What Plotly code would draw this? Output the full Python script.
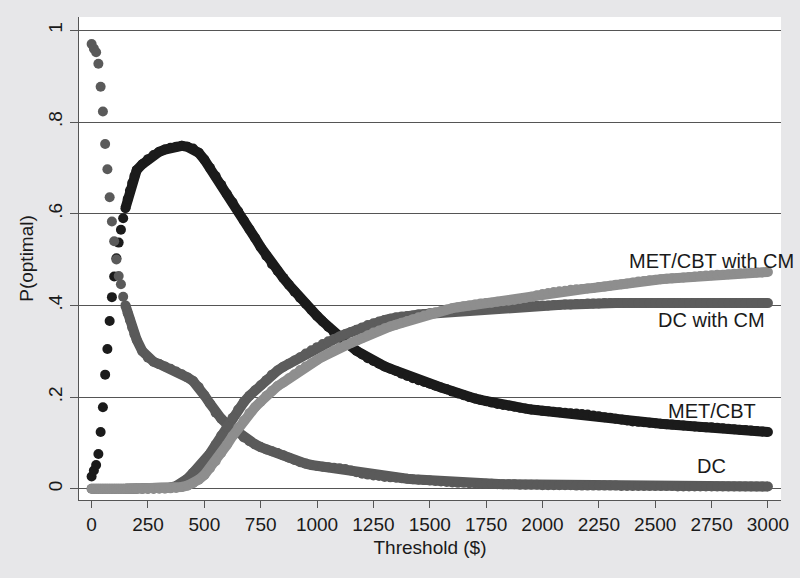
import plotly.graph_objects as go

# thresholds ($): every 10 up to 190, then every 25 up to 3000
threshold = list(range(0, 200, 10)) + list(range(200, 3001, 25))

met_cbt = [
    .027, .040, .052, .076, .124, .178, .249, .305, .366, .418,
    .463, .503, .537, .565, .590, .612, .632, .650, .667, .682,
    # 200 - 425
    .695, .708, .719, .728, .735, .740, .744, .746, .748, .746,
    .742, .733, .718, .700, .682, .663, .643, .625, .605, .585,
    .566, .547, .527, .508, .490, .475, .460, .445, .430, .416,
    .403, .390, .377, .365, .353, .341, .331, .321, .311, .301,
    .293, .285, .279, .273, .267, .262, .257, .251, .246, .241,
    .237, .233, .229, .225, .221, .217, .212, .208, .204, .200,
    .197, .194, .191, .188, .185, .183, .181, .179, .177, .175,
    .173, .172, .170, .169, .168, .167, .166, .165, .164, .163,
    .162, .160, .158, .156, .155, .153, .151, .149, .147, .146,
    .145, .144, .143, .142, .141, .140, .139, .138, .137, .136,
    .135, .134, .134, .133, .132, .131, .130, .129, .128, .127,
    .126, .125, .124,
]

dc = [
    .970, .960, .952, .927, .877, .823, .752, .697, .636, .583,
    .540, .500, .464, .446, .419, .400, .383, .368, .352, .337,
    # 200 - 425
    .325, .300, .286, .277, .272, .267, .262, .256, .250, .243,
    .235, .222, .204, .186, .166, .153, .141, .131, .122, .112,
    .104, .097, .091, .086, .082, .078, .073, .068, .063, .058,
    .055, .052, .050, .048, .047, .046, .045, .043, .040, .036,
    .033, .031, .029, .028, .026, .025, .024, .023, .022, .021,
    .020, .019, .018, .017, .016, .015, .014, .013, .013, .012,
    .012, .011, .011, .011, .010, .010, .010, .010, .009, .009,
    .009, .009, .008, .008, .008, .008, .008, .008, .007, .007,
    .007, .007, .007, .007, .007, .007, .006, .006, .006, .006,
    .006, .006, .006, .006, .006, .006, .005, .005, .005, .005,
    .005, .005, .005, .005, .005, .005, .005, .005, .005, .005,
    .005, .005, .005,
]

dc_cm = [
    0, 0, 0, 0, 0, 0, 0, 0, 0, 0,
    0, 0, 0, 0, 0, 0, 0, 0, 0, 0,
    # 200 - 425
    0, 0, 0, 0, .001, .002, .003, .006, .012, .022,
    .035, .047, .060, .077, .096, .116, .136, .155, .173, .189,
    .203, .215, .226, .237, .249, .258, .266, .273, .280, .287,
    .295, .302, .309, .316, .322, .327, .332, .337, .342, .347,
    .352, .357, .361, .365, .368, .371, .374, .376, .377, .378,
    .380, .381, .383, .384, .385, .386, .387, .388, .389, .390,
    .391, .392, .393, .394, .395, .396, .396, .397, .398, .398,
    .399, .399, .400, .400, .401, .401, .402, .402, .403, .403,
    .404, .404, .404, .405, .405, .405, .405, .405, .405, .405,
    .405, .405, .405, .405, .405, .405, .405, .405, .405, .405,
    .405, .405, .405, .405, .405, .405, .405, .405, .405, .405,
    .405, .405, .405,
]

met_cbt_cm = [
    0, 0, 0, 0, 0, 0, 0, 0, 0, 0,
    0, 0, 0, 0, 0, 0, 0, 0, 0, 0,
    # 200 - 425
    0, 0, 0, 0, 0, 0, .001, .002, .004, .007,
    .012, .020, .030, .045, .060, .078, .096, .115, .133, .149,
    .165, .178, .190, .203, .214, .224, .232, .241, .250, .259,
    .267, .274, .281, .288, .295, .302, .308, .313, .318, .323,
    .329, .335, .341, .345, .350, .354, .358, .362, .366, .370,
    .374, .378, .382, .385, .388, .391, .394, .396, .398, .400,
    .402, .404, .405, .406, .408, .409, .410, .412, .414, .416,
    .419, .422, .425, .427, .429, .431, .432, .434, .435, .436,
    .437, .438, .440, .441, .443, .445, .446, .448, .450, .452,
    .453, .455, .456, .457, .458, .459, .460, .461, .462, .463,
    .464, .465, .466, .467, .467, .468, .469, .470, .470, .471,
    .472, .472, .473,
]

for s in (met_cbt, dc, dc_cm, met_cbt_cm):
    assert len(s) == len(threshold), len(s)

# curve labels (placed at threshold 2750 like the original)
labels = ["MET/CBT with CM", "DC with CM", "MET/CBT", "DC"]
label_y = [0.497, 0.369, 0.170, 0.049]

series = [
    ("MET/CBT", met_cbt, "#1b1b1b"),
    ("DC", dc, "#5a5a5a"),
    ("DC with CM", dc_cm, "#5c5c5c"),
    ("MET/CBT with CM", met_cbt_cm, "#8e8e8e"),
]

# where the dots start to merge into a solid band
band_start = 15

fig = go.Figure()
for name, ys, col in series:
    # thick line under the dense part so the dots read as one band
    fig.add_trace(go.Scatter(
        x=threshold[band_start:], y=ys[band_start:], mode="lines",
        line=dict(color=col, width=10), hoverinfo="skip",
        cliponaxis=False,
    ))
    fig.add_trace(go.Scatter(
        x=threshold, y=ys, mode="markers", name=name,
        marker=dict(size=10, color=col, line=dict(width=0)),
        cliponaxis=False,
    ))

for txt, yy in zip(labels, label_y):
    fig.add_annotation(x=2750, y=yy, text=txt, showarrow=False,
                       xanchor="center", yanchor="middle",
                       font=dict(size=20, color="#1a1a1a"))

grey = "#555555"
fig.update_layout(
    width=800, height=578,
    margin=dict(l=79, r=19, t=17, b=78),
    paper_bgcolor="#e7e7e9",
    plot_bgcolor="white",
    showlegend=False,
    font=dict(family="Liberation Sans, Arial, sans-serif", size=19, color="#1a1a1a"),
    xaxis=dict(
        range=[-56, 3058],
        tickvals=list(range(0, 3001, 250)),
        ticks="outside", ticklen=7, tickcolor=grey, tickwidth=1,
        showline=True, linecolor=grey, linewidth=1,
        showgrid=False, zeroline=False,
        title=dict(text="Threshold ($)", standoff=6, font=dict(size=19)),
    ),
    yaxis=dict(
        range=[-0.0244, 1.029],
        tickvals=[0, .2, .4, .6, .8, 1],
        ticktext=["0", ".2", ".4", ".6", ".8", "1"],
        tickangle=-90,
        ticks="outside", ticklen=8, tickcolor=grey, tickwidth=1,
        showline=True, linecolor=grey, linewidth=1,
        showgrid=True, gridcolor=grey, gridwidth=1.2,
        zeroline=True, zerolinecolor=grey, zerolinewidth=1.2,
        title=dict(text="P(optimal)", standoff=6, font=dict(size=19)),
    ),
)

fig.write_html("out.html", config={"displayModeBar": False},
               post_script="document.body.style.margin='0px';")
